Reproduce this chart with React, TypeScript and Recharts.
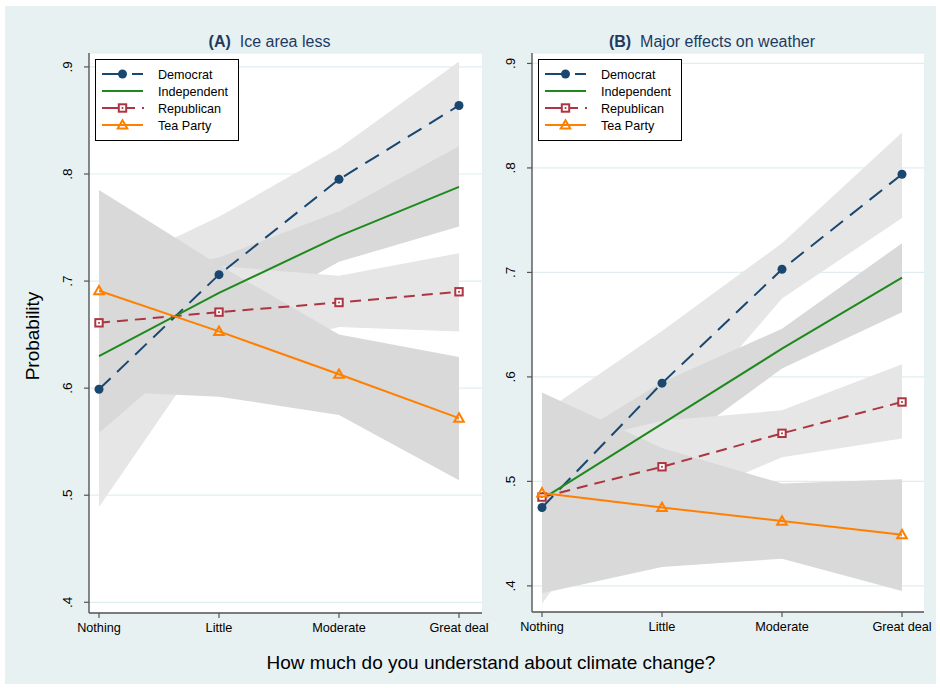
import React from 'react';
import { Area, CartesianGrid, ComposedChart, Line, XAxis, YAxis } from 'recharts';

const LEVELS = ['Nothing', 'Little', 'Moderate', 'Great deal'];
const Y_TICKS = [0.4, 0.5, 0.6, 0.7, 0.8, 0.9];

// (A) Ice area less: estimate, lower and upper bound per level
const A_DEM = [0.599, 0.706, 0.795, 0.864];
const A_DEM_LO = [0.489, 0.652, 0.765, 0.822];
const A_DEM_HI = [0.707, 0.76, 0.824, 0.905];
const A_IND = [0.63, 0.689, 0.742, 0.788];
const A_IND_LO = [0.558, 0.655, 0.718, 0.751];
const A_IND_HI = [0.7, 0.722, 0.765, 0.826];
const A_REP = [0.661, 0.671, 0.68, 0.69];
const A_REP_LO = [0.61, 0.628, 0.657, 0.653];
const A_REP_HI = [0.715, 0.714, 0.705, 0.726];
const A_TEA = [0.691, 0.653, 0.613, 0.572];
const A_TEA_LO = [0.597, 0.592, 0.575, 0.514];
const A_TEA_HI = [0.785, 0.715, 0.65, 0.629];

// (B) Major effects on weather
const B_DEM = [0.475, 0.594, 0.703, 0.794];
const B_DEM_LO = [0.383, 0.542, 0.675, 0.752];
const B_DEM_HI = [0.565, 0.644, 0.728, 0.834];
const B_IND = [0.483, 0.555, 0.627, 0.695];
const B_IND_LO = [0.44, 0.524, 0.608, 0.662];
const B_IND_HI = [0.525, 0.595, 0.646, 0.728];
const B_REP = [0.485, 0.514, 0.546, 0.576];
const B_REP_LO = [0.44, 0.475, 0.523, 0.541];
const B_REP_HI = [0.53, 0.558, 0.568, 0.612];
const B_TEA = [0.489, 0.475, 0.462, 0.449];
const B_TEA_LO = [0.393, 0.418, 0.426, 0.395];
const B_TEA_HI = [0.585, 0.532, 0.498, 0.502];

const NAVY = '#1a476f';
const GREEN = '#1e8a1e';
const MAROON = '#ad3541';
const ORANGE = '#ff8000';
const BAND_LIGHT = '#e6e6e6';
const BAND_DARK = '#d9d9d9';
const GRID = '#e0edf0';
const AXIS = '#555555';
const BG = '#e7f1f2';
const TITLE = '#1f3a60';
const FONT = "'Liberation Sans', Arial, Helvetica, sans-serif";

type Marker = 'circle' | 'square' | 'triangle' | 'none';
type Series = { key: string; label: string; color: string; band: string; dash?: string; marker: Marker };

const SERIES: Series[] = [
  { key: 'dem', label: 'Democrat', color: NAVY, band: BAND_LIGHT, dash: '16 9', marker: 'circle' },
  { key: 'ind', label: 'Independent', color: GREEN, band: BAND_DARK, marker: 'none' },
  { key: 'rep', label: 'Republican', color: MAROON, band: BAND_LIGHT, dash: '11 7', marker: 'square' },
  { key: 'tea', label: 'Tea Party', color: ORANGE, band: BAND_DARK, marker: 'triangle' },
];

type Triple = [number[], number[], number[]];

function buildRows(p: Record<string, Triple>) {
  return LEVELS.map((_, i) => {
    const row: Record<string, unknown> = { x: i };
    for (const s of SERIES) {
      const [est, lo, hi] = p[s.key];
      row[s.key] = est[i];
      row[s.key + 'Band'] = [lo[i], hi[i]];
    }
    return row;
  });
}

const rowsA = buildRows({
  dem: [A_DEM, A_DEM_LO, A_DEM_HI],
  ind: [A_IND, A_IND_LO, A_IND_HI],
  rep: [A_REP, A_REP_LO, A_REP_HI],
  tea: [A_TEA, A_TEA_LO, A_TEA_HI],
});
const rowsB = buildRows({
  dem: [B_DEM, B_DEM_LO, B_DEM_HI],
  ind: [B_IND, B_IND_LO, B_IND_HI],
  rep: [B_REP, B_REP_LO, B_REP_HI],
  tea: [B_TEA, B_TEA_LO, B_TEA_HI],
});

function MarkerShape({ s, cx, cy }: { s: Series; cx: number; cy: number }) {
  if (s.marker === 'circle') return <circle cx={cx} cy={cy} r={4.5} fill={s.color} />;
  if (s.marker === 'square')
    return (
      <g>
        <rect x={cx - 3.7} y={cy - 3.7} width={7.4} height={7.4} fill="#fff" stroke={s.color} strokeWidth={2} />
        <rect x={cx - 0.9} y={cy - 0.9} width={1.8} height={1.8} fill={s.color} />
      </g>
    );
  if (s.marker === 'triangle')
    return (
      <polygon
        points={`${cx},${cy - 4.8} ${cx - 4.8},${cy + 3.6} ${cx + 4.8},${cy + 3.6}`}
        fill="none"
        stroke={s.color}
        strokeWidth={2}
      />
    );
  return null;
}

const XTick = (props: any) => {
  const { x, y, payload } = props;
  return (
    <text x={x} y={y + 11.6} textAnchor="middle" fontSize={12.7} fill="#000" fontFamily={FONT}>
      {LEVELS[payload.value]}
    </text>
  );
};

const YTick = (props: any) => {
  const { x, y, payload } = props;
  const tx = x - 10;
  return (
    <text
      x={tx}
      y={y}
      transform={`rotate(-90 ${tx} ${y})`}
      textAnchor="middle"
      fontSize={13.5}
      fill="#000"
      fontFamily={FONT}
    >
      {payload.value.toFixed(1).replace(/^0/, '')}
    </text>
  );
};

function Panel({
  rows,
  domain,
  left,
  width,
  margin,
  padding,
}: {
  rows: Record<string, unknown>[];
  domain: [number, number];
  left: number;
  width: number;
  margin: { top: number; right: number; bottom: number; left: number };
  padding: { left: number; right: number };
}) {
  return (
    <div style={{ position: 'absolute', left, top: 0 }}>
      <ComposedChart width={width} height={650} data={rows} margin={margin}>
        <CartesianGrid vertical={false} stroke={GRID} strokeWidth={1.2} fill="#fff" fillOpacity={1} />
        <XAxis
          type="number"
          dataKey="x"
          domain={[0, 3]}
          ticks={[0, 1, 2, 3]}
          interval={0}
          padding={padding}
          height={30}
          tickSize={5}
          tick={XTick}
          axisLine={{ stroke: AXIS, strokeWidth: 1.4 }}
          tickLine={{ stroke: AXIS, strokeWidth: 1.2 }}
        />
        <YAxis
          type="number"
          domain={domain}
          allowDataOverflow
          ticks={Y_TICKS}
          interval={0}
          width={60}
          tickSize={5}
          tick={YTick}
          axisLine={{ stroke: AXIS, strokeWidth: 1.4 }}
          tickLine={{ stroke: AXIS, strokeWidth: 1.2 }}
        />
        {SERIES.map((s) => (
          <Area
            key={s.key + 'Band'}
            dataKey={s.key + 'Band'}
            type="linear"
            stroke="none"
            fill={s.band}
            fillOpacity={1}
            dot={false}
            activeDot={false}
            isAnimationActive={false}
          />
        ))}
        {SERIES.map((s) => (
          <Line
            key={s.key}
            dataKey={s.key}
            type="linear"
            stroke={s.color}
            strokeWidth={2}
            strokeDasharray={s.dash}
            dot={
              s.marker === 'none'
                ? false
                : (p: any) => <MarkerShape key={`${s.key}-${p.index}`} s={s} cx={p.cx} cy={p.cy} />
            }
            activeDot={false}
            isAnimationActive={false}
          />
        ))}
      </ComposedChart>
    </div>
  );
}

function LegendSymbol({ s, cy }: { s: Series; cy: number }) {
  const x0 = 7;
  const x1 = 48;
  const mid = 27.5;
  if (s.marker === 'circle')
    return (
      <g>
        <line x1={x0} y1={cy} x2={30} y2={cy} stroke={s.color} strokeWidth={2} />
        <line x1={37} y1={cy} x2={x1} y2={cy} stroke={s.color} strokeWidth={2} />
        <MarkerShape s={s} cx={mid} cy={cy} />
      </g>
    );
  if (s.marker === 'square')
    return (
      <g>
        <line x1={x0} y1={cy} x2={40} y2={cy} stroke={s.color} strokeWidth={2} />
        <line x1={47} y1={cy} x2={x1 + 1} y2={cy} stroke={s.color} strokeWidth={2} />
        <MarkerShape s={s} cx={mid} cy={cy} />
      </g>
    );
  return (
    <g>
      <line x1={x0} y1={cy} x2={x1} y2={cy} stroke={s.color} strokeWidth={2} />
      <MarkerShape s={s} cx={mid} cy={cy} />
    </g>
  );
}

function LegendBox({ x, y }: { x: number; y: number }) {
  return (
    <g transform={`translate(${x},${y})`}>
      <rect x={0.5} y={0.5} width={143} height={81} fill="#fff" stroke="#000" strokeWidth={1} />
      {SERIES.map((s, i) => {
        const cy = 15 + 17 * i;
        return (
          <g key={s.key}>
            <LegendSymbol s={s} cy={cy} />
            <text x={63} y={cy + 4.5} fontSize={12.6} fill="#000" fontFamily={FONT}>
              {s.label}
            </text>
          </g>
        );
      })}
    </g>
  );
}

export default function App() {
  return (
    <div style={{ position: 'absolute', left: 0, top: 0, width: 940, height: 688, background: '#fff', fontFamily: FONT }}>
      <div style={{ position: 'absolute', left: 5, top: 6, width: 931, height: 678, background: BG }} />
      <Panel
        rows={rowsA}
        domain={[0.39, 0.913]}
        left={0}
        width={500}
        margin={{ top: 53, right: 18, bottom: 7, left: 29 }}
        padding={{ left: 10, right: 23 }}
      />
      <Panel
        rows={rowsB}
        domain={[0.375, 0.91]}
        left={470}
        width={470}
        margin={{ top: 53, right: 16, bottom: 8, left: 2 }}
        padding={{ left: 10, right: 22 }}
      />
      <svg width={940} height={688} style={{ position: 'absolute', left: 0, top: 0, pointerEvents: 'none' }}>
        <text x={269.5} y={46.7} textAnchor="middle" fontSize={16} fill={TITLE} fontFamily={FONT} style={{ whiteSpace: 'pre' }}>
          <tspan fontWeight="bold">(A)</tspan>
          {'  Ice area less'}
        </text>
        <text x={712} y={46.7} textAnchor="middle" fontSize={16} fill={TITLE} fontFamily={FONT} style={{ whiteSpace: 'pre' }}>
          <tspan fontWeight="bold">(B)</tspan>
          {'  Major effects on weather'}
        </text>
        <text
          x={38.5}
          y={336}
          transform="rotate(-90 38.5 336)"
          textAnchor="middle"
          fontSize={19}
          fill="#000"
          fontFamily={FONT}
        >
          Probability
        </text>
        <text x={491} y={668.5} textAnchor="middle" fontSize={19} fill="#000" fontFamily={FONT}>
          How much do you understand about climate change?
        </text>
        <LegendBox x={95} y={59} />
        <LegendBox x={538} y={59} />
      </svg>
    </div>
  );
}
